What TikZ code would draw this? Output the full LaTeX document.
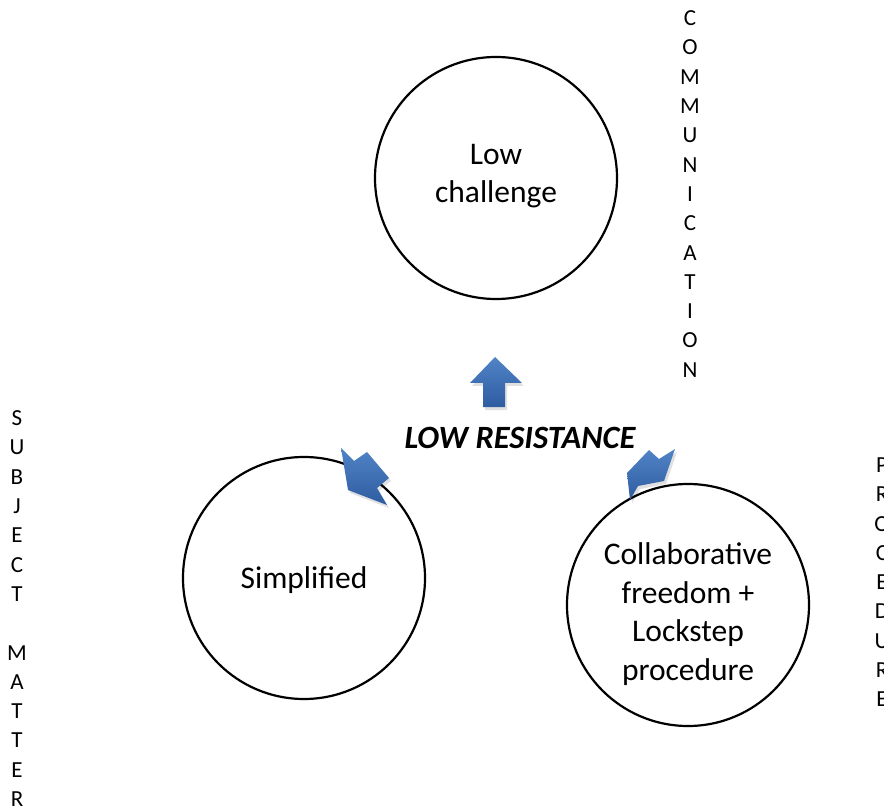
\documentclass[tikz,border=0pt]{standalone}
\usepackage{fontspec}
\setmainfont{Carlito}
\definecolor{arrowtop}{RGB}{80,132,198}
\definecolor{arrowbot}{RGB}{46,92,160}
\begin{document}
\begin{tikzpicture}[x=1pt,y=-1pt,
  ring/.style={circle,draw=black,line width=2.2pt,minimum size=242pt,inner sep=0pt},
  lbl/.style={align=center,font=\fontsize{31.5}{38.5}\selectfont,inner sep=0pt},
  vert/.style={align=center,font=\fontsize{23}{29.3}\selectfont,inner sep=0pt,anchor=north},
  blockarrow/.style={top color=arrowtop,bottom color=arrowbot,draw=none},
  shadowfill/.style={fill=black,opacity=0.12,draw=none}
]
\useasboundingbox (0,0) rectangle (884,810);
\clip (0,0) rectangle (884,810);

% circles
\node[ring] (top) at (496,178) {};
\node[ring] (left) at (304,578) {};
\node[ring] (right) at (688,605) {};

% circle texts
\node[lbl] (toptext) at (496,176) {Low\\challenge};
\node[lbl] (lefttext) at (304,580) {Simplified};
\node[lbl] (righttext) at (688,614) {Collaborative\\freedom +\\Lockstep\\procedure};

% centre label
\node[font=\fontsize{32.5}{39}\selectfont\bfseries\itshape,inner sep=0pt] (resist) at (520,438) {LOW RESISTANCE};

% vertical words
\node[vert] (comm) at (690,10.5) {C\\O\\M\\M\\U\\N\\I\\C\\A\\T\\I\\O\\N};
\node[vert] (subj) at (17,410.5) {S\\U\\B\\J\\E\\C\\T\\\mbox{}\\M\\A\\T\\T\\E\\R};
\node[vert] (proc) at (882,457.5) {P\\R\\O\\C\\E\\D\\U\\R\\E};

% block arrows (shadows)
\fill[shadowfill] (497,360) -- (524,386) -- (507,386) -- (507,410) -- (485,410) -- (485,386) -- (472,386) -- cycle;
\fill[shadowfill] (350,493) -- (343,451) -- (356,464) -- (369,455) -- (391,481) -- (379,491) -- (389,508) -- cycle;
\fill[shadowfill] (629,476) -- (651,453) -- (661,462) -- (677,452) -- (666,484) -- (640,489) -- (632,503) -- cycle;

% block arrows
\path[blockarrow] (495,357) -- (522,383) -- (505,383) -- (505,407) -- (483,407) -- (483,383) -- (470,383) -- cycle;
\path[blockarrow] (348,490) -- (341,448) -- (354,461) -- (367,452) -- (389,478) -- (377,488) -- (387,505) -- cycle;
\path[blockarrow] (627,473) -- (649,450) -- (659,459) -- (675,449) -- (664,481) -- (638,486) -- (630,500) -- cycle;
\end{tikzpicture}
\end{document}
